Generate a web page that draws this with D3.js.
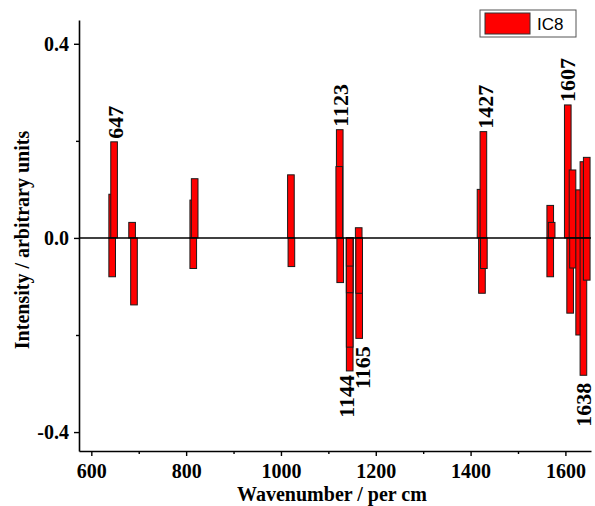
<!DOCTYPE html>
<html><head><meta charset="utf-8">
<script src="https://cdn.jsdelivr.net/npm/d3@7"></script>
<style>body{margin:0;background:#fff}svg{display:block}</style>
</head><body>
<svg id="c" width="595" height="506"></svg>
<script>
// Bars in drawing order (later bars overlap earlier ones)
const wavenumbers = [644, 648, 644, 686, 690, 815, 818, 815, 1021, 1022,
  1124, 1123, 1125, 1145, 1145, 1145, 1145, 1164, 1165, 1165,
  1421, 1427, 1424, 1428, 1568, 1568, 1571,
  1605, 1610, 1615, 1616, 1629, 1629, 1638, 1638, 1645, 1645];
const intensities = [0.09, 0.198, -0.08, 0.032, -0.138, 0.078, 0.122, -0.063, 0.13, -0.059,
  0.223, 0.147, -0.092, -0.274, -0.225, -0.113, -0.058, 0.021, -0.207, -0.114,
  0.1, 0.219, -0.114, -0.063, 0.067, -0.08, 0.032,
  0.274, -0.155, 0.14, -0.062, 0.099, -0.2, 0.157, -0.283, 0.166, -0.087];
const peakLabels = ["647", "1123", "1427", "1607", "1144", "1165", "1638"];
const peakX = [652, 1127, 1432, 1606, 1139, 1174, 1640];
const peakY = [0.198, 0.223, 0.219, 0.274, -0.274, -0.215, -0.29];
const xTicks = [600, 800, 1000, 1200, 1400, 1600];
const xMinor = [700, 900, 1100, 1300, 1500];
const yTicks = [-0.4, 0.0, 0.4];
const yMinor = [-0.2, 0.2];
const seriesName = "IC8";
const barWidthUnits = 14;

const svg = d3.select("#c");
const x = d3.scaleLinear().domain([574, 1654]).range([79, 591]);
const y = d3.scaleLinear().domain([-0.439, 0.449]).range([451, 20]);
const serif = "'Liberation Serif','Times New Roman',serif";

// bars
const bw = x(barWidthUnits) - x(0);
svg.append("g").selectAll("rect").data(wavenumbers.map((w,i)=>({w, v:intensities[i]})))
  .join("rect")
  .attr("x", d => x(d.w) - bw/2)
  .attr("width", bw)
  .attr("y", d => y(Math.max(0, d.v)))
  .attr("height", d => Math.abs(y(d.v) - y(0)))
  .attr("fill", "#ff0000")
  .attr("stroke", "#1a1a1a")
  .attr("stroke-width", 1);

// zero line
svg.append("line").attr("x1", 79).attr("x2", 591).attr("y1", y(0)).attr("y2", y(0))
  .attr("stroke", "#000").attr("stroke-width", 1.5);

// axes
const xAxis = svg.append("g").attr("transform", "translate(0,451)")
  .call(d3.axisBottom(x).tickValues(xTicks).tickSize(5).tickSizeOuter(0).tickFormat(d3.format("d")));
svg.append("g").attr("transform", "translate(0,451)")
  .call(d3.axisBottom(x).tickValues(xMinor).tickSize(3).tickSizeOuter(0).tickFormat(""))
  .select(".domain").remove();
const yAxis = svg.append("g").attr("transform", "translate(79,0)")
  .call(d3.axisLeft(y).tickValues(yTicks).tickSize(5).tickSizeOuter(0).tickFormat(d => d.toFixed(1)));
svg.append("g").attr("transform", "translate(79,0)")
  .call(d3.axisLeft(y).tickValues(yMinor).tickSize(3).tickSizeOuter(0).tickFormat(""))
  .select(".domain").remove();
svg.selectAll(".domain").attr("stroke-width", 1.6);
svg.selectAll(".tick line").attr("stroke-width", 1.4);
xAxis.selectAll("text").attr("font-family", serif).attr("font-weight", "bold")
  .attr("font-size", 20).attr("y", 9).attr("dy", "0.9em");
yAxis.selectAll("text").attr("font-family", serif).attr("font-weight", "bold")
  .attr("font-size", 20).attr("x", -10);

// axis titles
svg.append("text").attr("x", 332).attr("y", 501).attr("text-anchor", "middle")
  .attr("font-family", serif).attr("font-weight", "bold").attr("font-size", 20)
  .text("Wavenumber / per cm");
svg.append("text").attr("transform", "translate(29,240) rotate(-90)").attr("text-anchor", "middle")
  .attr("font-family", serif).attr("font-weight", "bold").attr("font-size", 20)
  .text("Intensity / arbitrary units");

// peak labels (rotated)
peakLabels.forEach((t, i) => {
  const up = peakY[i] > 0;
  svg.append("text")
    .attr("transform", `translate(${x(peakX[i]) + 7},${y(peakY[i]) + (up ? -3 : 4)}) rotate(-90)`)
    .attr("text-anchor", up ? "start" : "end")
    .attr("font-family", serif).attr("font-weight", "bold").attr("font-size", 22)
    .text(t);
});

// legend
svg.append("rect").attr("x", 480).attr("y", 10).attr("width", 96).attr("height", 27)
  .attr("fill", "#fff").attr("stroke", "#555").attr("stroke-width", 1);
svg.append("rect").attr("x", 485).attr("y", 13).attr("width", 45).attr("height", 21)
  .attr("fill", "#ff0000").attr("stroke", "#333").attr("stroke-width", 1);
svg.append("text").attr("x", 537).attr("y", 30).attr("font-family", "'Liberation Sans',Arial,sans-serif")
  .attr("font-size", 17).text(seriesName);
</script>
</body></html>
